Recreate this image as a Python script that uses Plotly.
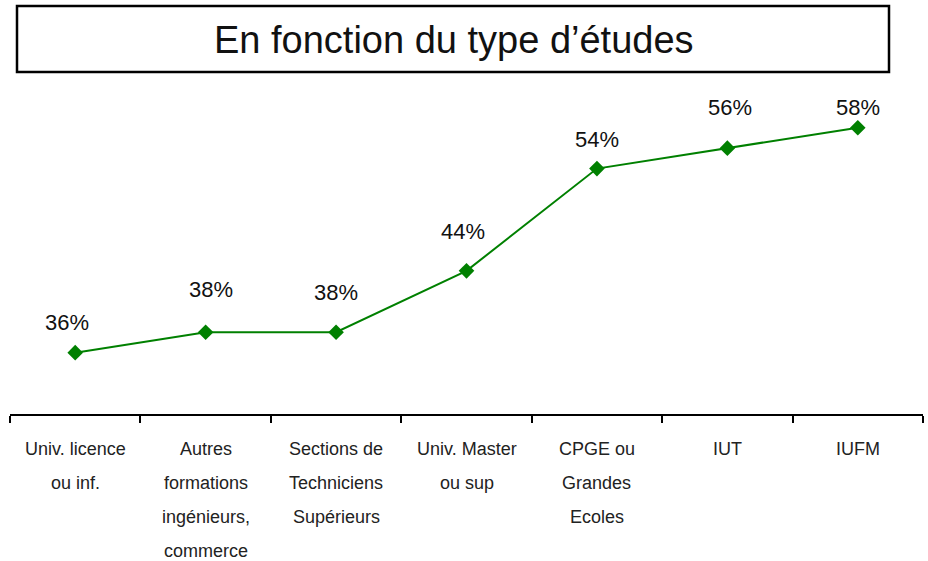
import plotly.graph_objects as go

categories = ["Univ. licence ou inf.", "Autres formations ingénieurs, commerce",
              "Sections de Techniciens Supérieurs", "Univ. Master ou sup",
              "CPGE ou Grandes Ecoles", "IUT", "IUFM"]
category_lines = [["Univ. licence", "ou inf."],
                  ["Autres", "formations", "ingénieurs,", "commerce"],
                  ["Sections de", "Techniciens", "Supérieurs"],
                  ["Univ. Master", "ou sup"],
                  ["CPGE ou", "Grandes", "Ecoles"],
                  ["IUT"],
                  ["IUFM"]]
values = [36, 38, 38, 44, 54, 56, 58]
title_text = "En fonction du type d’études"

# label offsets (pixels) as placed in the original chart
label_dx = [-8, 5, 0, -4, 0, 3, 0]
label_dy = [30, 43, 40, 39, 29, 41, 20]

GREEN = "#008000"
FONT = "Liberation Sans"

W, H = 928, 561
L, R = 10, 928 - 923
T, B = 97, 561 - 414
pw, ph = W - L - R, H - T - B


def px(x):
    return (x - L) / pw


def py(y):
    return (T + ph - y) / ph


fig = go.Figure()
fig.add_trace(go.Scatter(
    x=categories, y=values, mode="lines+markers",
    line=dict(color=GREEN, width=2),
    marker=dict(symbol="diamond", size=12, color=GREEN),
    hoverinfo="skip", showlegend=False,
))

annotations = []
for c, v, dx, dy in zip(categories, values, label_dx, label_dy):
    annotations.append(dict(x=c, y=v, xref="x", yref="y", text=f"{v}%",
                            showarrow=False, xshift=dx, yshift=dy,
                            font=dict(family=FONT, size=22, color="#111111"),
                            xanchor="center", yanchor="middle"))
for c, lines in zip(categories, category_lines):
    for i, ln in enumerate(lines):
        annotations.append(dict(x=c, y=0, xref="x", yref="paper", text=ln,
                                showarrow=False, yshift=-35 - 34 * i,
                                font=dict(family=FONT, size=18, color="#222222"),
                                xanchor="center", yanchor="middle"))

# title
annotations.append(dict(x=px(454), y=py(40), xref="paper", yref="paper", text=title_text,
                        showarrow=False, font=dict(family=FONT, size=38, color="#111111"),
                        xanchor="center", yanchor="middle"))

fig.update_layout(
    width=W, height=H,
    margin=dict(l=L, r=R, t=T, b=B),
    paper_bgcolor="white", plot_bgcolor="white",
    xaxis=dict(type="category", range=[-0.5, 6.5], showgrid=False, zeroline=False,
               showline=True, linecolor="black", linewidth=2,
               ticks="outside", tickson="boundaries", ticklen=7, tickwidth=2,
               tickcolor="black", showticklabels=False, fixedrange=True),
    yaxis=dict(range=[30, 61], visible=False, showgrid=False, zeroline=False,
               fixedrange=True),
    annotations=annotations,
    shapes=[dict(type="rect", xref="paper", yref="paper",
                 x0=px(17), x1=px(889), y0=py(72), y1=py(6),
                 line=dict(color="black", width=2.5), fillcolor="rgba(0,0,0,0)")],
)

fig.write_html("out.html", config={"displayModeBar": False},
               post_script="document.body.style.margin='0px';document.body.style.overflow='hidden';")
